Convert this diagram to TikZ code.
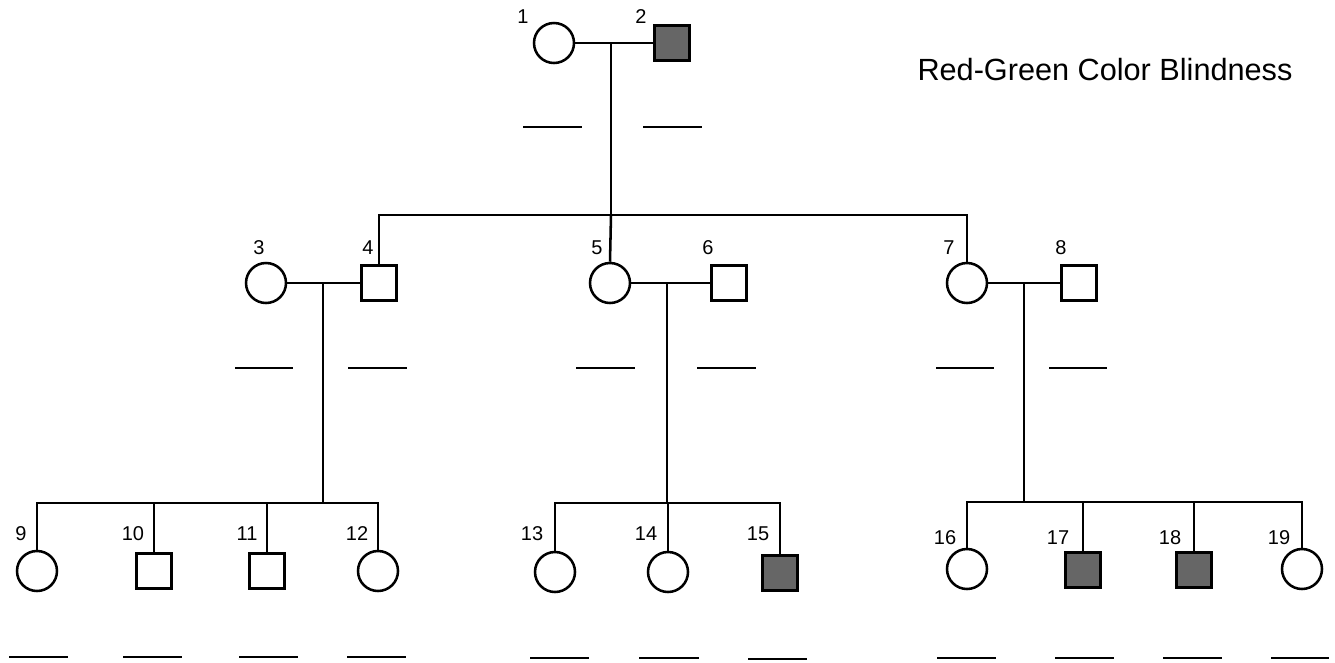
\documentclass[tikz,border=0pt]{standalone}
\usepackage{fontspec}
\setmainfont{Liberation Sans}
\usetikzlibrary{positioning}
\definecolor{affectedgray}{RGB}{102,102,102}
\tikzset{
    x=0.75pt, y=-0.75pt, % one unit is one pixel of the reference
    every path/.style={line width=1.9pt},
    female/.style={draw, circle, minimum size=30pt, inner sep=0pt}, % circle for women
    male/.style={draw, rectangle, minimum size=26.25pt, inner sep=0pt}, % square for men
    affected/.style={fill=affectedgray},
    num/.style={font=\fontsize{15}{16}\selectfont, inner sep=0pt},
    blank/.style={line width=1.9pt},
}

\begin{document}
\begin{tikzpicture}
    \useasboundingbox (0,0) rectangle (1335,662);

    % generation I
    \node[female] (f1) at (554,43) {};
    \node[male, affected] (m2) at (672,43) {};
    % generation II
    \node[female] (f3) at (266,283) {};
    \node[male] (m4) at (379,283) {};
    \node[female] (f5) at (610,283) {};
    \node[male] (m6) at (729,283) {};
    \node[female] (f7) at (967,283) {};
    \node[male] (m8) at (1079,283) {};
    % generation III
    \node[female] (f9) at (37,571) {};
    \node[male] (m10) at (154,571) {};
    \node[male] (m11) at (267,571) {};
    \node[female] (f12) at (378,571) {};
    \node[female] (f13) at (555,572) {};
    \node[female] (f14) at (668,572) {};
    \node[male, affected] (m15) at (780,573) {};
    \node[female] (f16) at (967,569) {};
    \node[male, affected] (m17) at (1083,570) {};
    \node[male, affected] (m18) at (1194,570) {};
    \node[female] (f19) at (1302,569) {};

    % marriage and sibship points
    \coordinate (u12) at (611,43);
    \coordinate (s1) at (611,215);
    \coordinate (u34) at (323,283);
    \coordinate (s2) at (323,503);
    \coordinate (u56) at (667,283);
    \coordinate (s3) at (667,503);
    \coordinate (u78) at (1024,283);
    \coordinate (s4) at (1024,502);

    % lines of descent
    \draw (f1) -- (m2);
    \draw (u12) -- (s1);
    \draw (m4.north) |- (s1) -| (f7.north);
    \draw (s1) -- (f5.north);

    \draw (f3) -- (m4);
    \draw (u34) -- (s2);
    \draw (f9.north) |- (s2) -| (f12.north);
    \draw (m10.north) -- (m10.north |- s2);
    \draw (m11.north) -- (m11.north |- s2);

    \draw (f5) -- (m6);
    \draw (u56) -- (s3);
    \draw (f13.north) |- (s3) -| (m15.north);
    \draw (f14.north) -- (f14.north |- s3);

    \draw (f7) -- (m8);
    \draw (u78) -- (s4);
    \draw (f16.north) |- (s4) -| (f19.north);
    \draw (m17.north) -- (m17.north |- s4);
    \draw (m18.north) -- (m18.north |- s4);

    % numbers
    \foreach \n/\x/\y in {1/523/17, 2/641/17,
        3/259/248, 4/368/248, 5/597/248, 6/708/248, 7/949/248, 8/1061/248,
        9/21/534, 10/133/534, 11/247/534, 12/357/534,
        13/532/534, 14/646/534, 15/758/534,
        16/945/538, 17/1058/538, 18/1170/538, 19/1279/538}
        \node[num] (l\n) at (\x,\y) {\n};

    % answer blanks
    \foreach \a/\b/\y in {523/582/127, 643/702/127,
        235/293/368, 348/407/368, 576/635/368, 697/756/368, 936/994/368, 1049/1107/368,
        9/68/657, 123/182/657, 239/298/657, 347/406/657,
        530/589/658, 639/699/658, 748/807/659,
        937/996/658, 1055/1114/658, 1163/1222/658, 1271/1329/658}
        \draw[blank] (\a,\y) -- (\b,\y);

    \node[font=\fontsize{23}{26}\selectfont] (title) at (1105,70) {Red-Green Color Blindness};
\end{tikzpicture}
\end{document}
